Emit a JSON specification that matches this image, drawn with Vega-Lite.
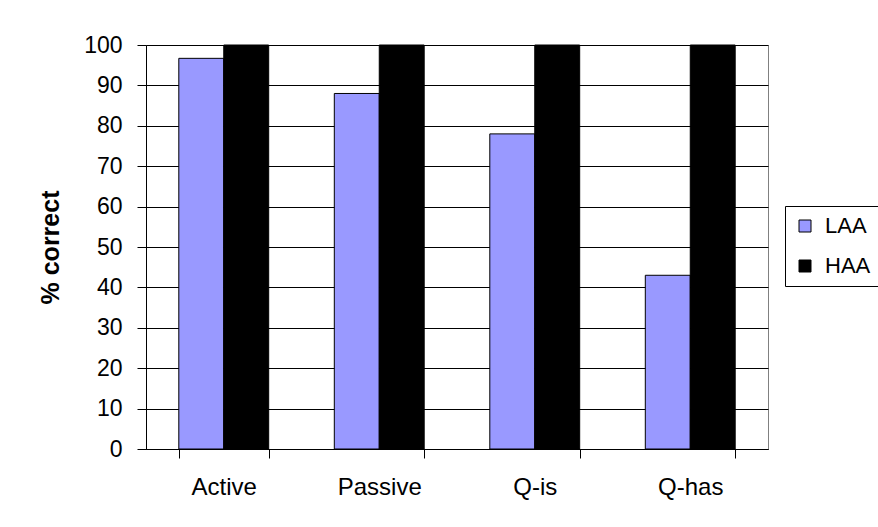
{
  "$schema": "https://vega.github.io/schema/vega-lite/v6.json",
  "width": 622,
  "height": 404,
  "autosize": {"type": "none"},
  "padding": {"left": 146, "top": 45, "right": 110, "bottom": 78},
  "background": "white",
  "data": {
    "values": [
      {"condition": "Active", "group": "LAA", "pct": 96.7},
      {"condition": "Active", "group": "HAA", "pct": 100},
      {"condition": "Passive", "group": "LAA", "pct": 88},
      {"condition": "Passive", "group": "HAA", "pct": 100},
      {"condition": "Q-is", "group": "LAA", "pct": 78},
      {"condition": "Q-is", "group": "HAA", "pct": 100},
      {"condition": "Q-has", "group": "LAA", "pct": 43},
      {"condition": "Q-has", "group": "HAA", "pct": 100}
    ]
  },
  "mark": {"type": "bar", "stroke": "black", "strokeWidth": 1},
  "encoding": {
    "x": {
      "field": "condition",
      "type": "nominal",
      "sort": ["Active", "Passive", "Q-is", "Q-has"],
      "scale": {"paddingInner": 0.422, "paddingOuter": 0.211},
      "axis": {
        "title": null,
        "labelAngle": 0,
        "labelFont": "Liberation Sans",
        "labelFontSize": 24,
        "labelColor": "black",
        "labelPadding": 17,
        "tickBand": "extent",
        "tickSize": 9,
        "tickColor": "black",
        "domainColor": "black",
        "grid": false
      }
    },
    "xOffset": {
      "field": "group",
      "type": "nominal",
      "sort": ["LAA", "HAA"],
      "scale": {"paddingInner": 0, "paddingOuter": 0}
    },
    "y": {
      "field": "pct",
      "type": "quantitative",
      "scale": {"domain": [0, 100], "nice": false},
      "axis": {
        "title": "% correct",
        "titleFont": "Liberation Sans",
        "titleFontSize": 25,
        "titleFontWeight": "bold",
        "titleColor": "black",
        "titlePadding": 20,
        "values": [0, 10, 20, 30, 40, 50, 60, 70, 80, 90, 100],
        "labelFont": "Liberation Sans",
        "labelFontSize": 23,
        "labelColor": "black",
        "labelPadding": 15,
        "tickSize": 9,
        "tickColor": "black",
        "domainColor": "black",
        "grid": true,
        "gridColor": "black",
        "gridOpacity": 1
      }
    },
    "color": {
      "field": "group",
      "type": "nominal",
      "sort": ["LAA", "HAA"],
      "scale": {"domain": ["LAA", "HAA"], "range": ["#9999FF", "#000000"]},
      "legend": {
        "title": null,
        "orient": "none",
        "legendX": 639,
        "legendY": 161,
        "symbolType": "square",
        "symbolSize": 144,
        "symbolStrokeColor": "black",
        "symbolStrokeWidth": 1,
        "symbolOpacity": 1,
        "symbolOffset": 0,
        "labelOffset": 9,
        "labelFont": "Liberation Sans",
        "labelFontSize": 22,
        "labelColor": "black",
        "rowPadding": 18,
        "strokeColor": "black",
        "padding": 9,
        "fillColor": "white"
      }
    }
  },
  "config": {
    "view": {"stroke": "#808080", "strokeWidth": 1},
    "axis": {"domainWidth": 1, "tickWidth": 1, "gridWidth": 1}
  }
}
